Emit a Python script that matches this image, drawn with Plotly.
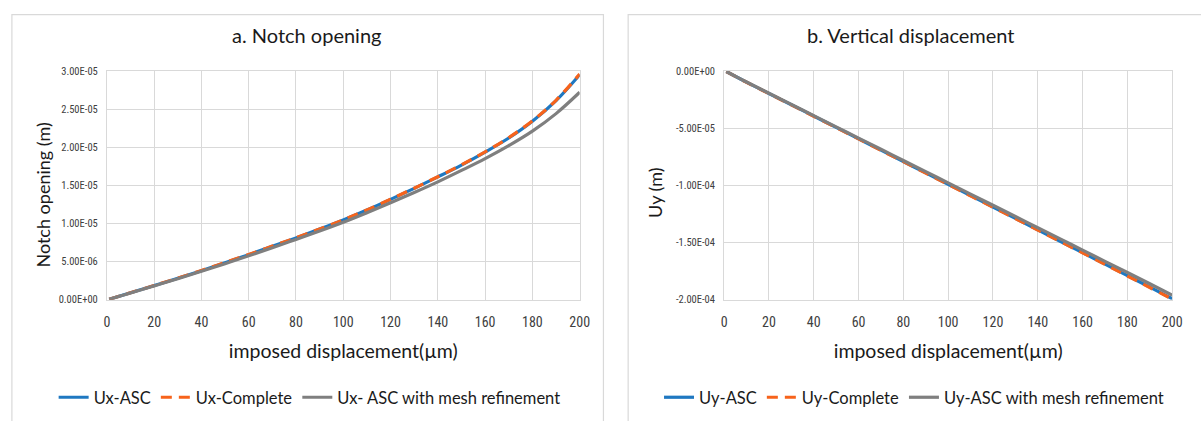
import plotly.graph_objects as go

# ---------------- data ----------------
disp = [1, 10, 20, 30, 40, 50, 60, 70, 80, 90, 100, 110, 120, 130, 140, 150, 160, 170, 180, 190, 200]

ux_asc = [0.05e-6, 0.9e-6, 1.85e-6, 2.8e-6, 3.8e-6, 4.85e-6, 5.9e-6, 7.0e-6, 8.1e-6, 9.25e-6, 10.45e-6,
          11.75e-6, 13.15e-6, 14.6e-6, 16.1e-6, 17.65e-6, 19.35e-6, 21.2e-6, 23.4e-6, 26.1e-6, 29.5e-6]
ux_complete = [0.05e-6, 0.9e-6, 1.86e-6, 2.82e-6, 3.82e-6, 4.87e-6, 5.92e-6, 7.02e-6, 8.12e-6, 9.27e-6, 10.47e-6,
               11.77e-6, 13.17e-6, 14.62e-6, 16.12e-6, 17.68e-6, 19.38e-6, 21.25e-6, 23.45e-6, 26.15e-6, 29.6e-6]
ux_mesh = [0.05e-6, 0.88e-6, 1.8e-6, 2.75e-6, 3.72e-6, 4.72e-6, 5.75e-6, 6.8e-6, 7.9e-6, 9.0e-6, 10.15e-6,
           11.4e-6, 12.7e-6, 14.05e-6, 15.45e-6, 16.95e-6, 18.5e-6, 20.2e-6, 22.1e-6, 24.4e-6, 27.2e-6]

uy_asc = [-0.5e-6, -9.8e-6, -19.7e-6, -29.6e-6, -39.5e-6, -49.4e-6, -59.3e-6, -69.3e-6, -79.2e-6, -89.2e-6,
          -99.1e-6, -109.0e-6, -119.0e-6, -128.9e-6, -138.9e-6, -148.9e-6, -158.9e-6, -168.9e-6, -179.0e-6,
          -189.0e-6, -199.2e-6]
uy_complete = [-0.5e-6, -9.9e-6, -19.8e-6, -29.7e-6, -39.6e-6, -49.5e-6, -59.4e-6, -69.4e-6, -79.3e-6, -89.3e-6,
               -99.2e-6, -109.2e-6, -119.2e-6, -129.1e-6, -139.1e-6, -149.1e-6, -159.1e-6, -169.2e-6, -179.3e-6,
               -189.4e-6, -199.5e-6]
uy_mesh = [-0.5e-6, -9.7e-6, -19.5e-6, -29.3e-6, -39.1e-6, -48.9e-6, -58.7e-6, -68.5e-6, -78.3e-6, -88.1e-6,
           -97.9e-6, -107.7e-6, -117.5e-6, -127.3e-6, -137.1e-6, -146.9e-6, -156.7e-6, -166.5e-6, -176.3e-6,
           -186.1e-6, -196.0e-6]

x_ticks = [0, 20, 40, 60, 80, 100, 120, 140, 160, 180, 200]
left_yticks = [0, 5e-6, 1e-5, 1.5e-5, 2e-5, 2.5e-5, 3e-5]
left_ytext = ["0.00E+00", "5.00E-06", "1.00E-05", "1.50E-05", "2.00E-05", "2.50E-05", "3.00E-05"]
right_yticks = [0, -5e-5, -1e-4, -1.5e-4, -2e-4]
right_ytext = ["0.00E+00", "-5.00E-05", "-1.00E-04", "-1.50E-04", "-2.00E-04"]

left_names = ["Ux-ASC", "Ux-Complete", "Ux- ASC with mesh refinement"]
right_names = ["Uy-ASC", "Uy-Complete", "Uy-ASC with mesh refinement"]

# ---------------- styles ----------------
BLUE = "#1f78c1"
ORANGE = "#f7631b"
GRAY = "#7f7f7f"
GRID = "#d9d9d9"
TXT = "#1a1a1a"
FONT = "Lato, 'Open Sans', sans-serif"
TICKFONT = "'Liberation Sans Narrow', 'Roboto Condensed', Lato, sans-serif"

W, H = 1201, 421

fig = go.Figure()

def add_set(xa, ya, ys, names, legend):
    styles = [dict(color=BLUE, width=3.2, dash="solid"),
              dict(color=ORANGE, width=3.2, dash="11px,7px"),
              dict(color=GRAY, width=3.2, dash="solid")]
    for y, n, st in zip(ys, names, styles):
        fig.add_trace(go.Scatter(x=disp, y=y, name=n, mode="lines", line=st,
                                 line_shape="spline", xaxis=xa, yaxis=ya, legend=legend))

add_set("x", "y", [ux_asc, ux_complete, ux_mesh], left_names, "legend")
add_set("x2", "y2", [uy_asc, uy_complete, uy_mesh], right_names, "legend2")

ydom = [1 - 303 / H, 1 - 67 / H]

xcommon = dict(range=[0, 200], tickvals=x_ticks, showgrid=True, gridcolor=GRID, gridwidth=1,
               showline=True, linecolor=GRID, linewidth=1, mirror=True, zeroline=False,
               ticks="", ticklabelstandoff=10,
               tickfont=dict(family=TICKFONT, size=14, color="#404040"),
               title=dict(text="imposed displacement(µm)", font=dict(family=FONT, size=19.5, color=TXT),
                          standoff=14))
ycommon = dict(showgrid=True, gridcolor=GRID, gridwidth=1, showline=True, linecolor=GRID,
               linewidth=1, mirror=True, zeroline=False, ticks="", ticklabelstandoff=6,
               tickfont=dict(family=TICKFONT, size=10.5, color="#404040"))

legfont = dict(family=FONT, size=16.5, color=TXT)

fig.update_layout(
    width=W, height=H,
    margin=dict(l=0, r=0, t=0, b=0),
    paper_bgcolor="white", plot_bgcolor="white",
    showlegend=True,
    xaxis=dict(domain=[105 / W, 583 / W], anchor="y", **xcommon),
    yaxis=dict(domain=ydom, anchor="x", range=[0, 3e-5], tickvals=left_yticks, ticktext=left_ytext,
               **ycommon),
    xaxis2=dict(domain=[729 / W, 1182 / W], anchor="y2", **xcommon),
    yaxis2=dict(domain=ydom, anchor="x2", range=[-2e-4, 0], tickvals=right_yticks, ticktext=right_ytext,
                **ycommon),
    legend=dict(orientation="h", x=310 / W, xanchor="center", y=1 - 404 / H, yanchor="middle",
                font=legfont, bgcolor="rgba(0,0,0,0)", itemwidth=30, tracegroupgap=0),
    legend2=dict(orientation="h", x=921 / W, xanchor="center", y=1 - 404 / H, yanchor="middle",
                 font=legfont, bgcolor="rgba(0,0,0,0)", itemwidth=30, tracegroupgap=0),
    shapes=[
        dict(type="rect", xref="paper", yref="paper", x0=9 / W, x1=607 / W, y0=-0.05, y1=1 - 9 / H,
             line=dict(color=GRID, width=1.2), fillcolor="rgba(0,0,0,0)", layer="below"),
        dict(type="rect", xref="paper", yref="paper", x0=632 / W, x1=1.05, y0=-0.05, y1=1 - 9 / H,
             line=dict(color=GRID, width=1.2), fillcolor="rgba(0,0,0,0)", layer="below"),
    ],
    annotations=[
        dict(text="a. Notch opening", xref="paper", yref="paper", x=307 / W, y=1 - 30 / H,
             xanchor="center", yanchor="middle", showarrow=False,
             font=dict(family=FONT, size=20, color=TXT)),
        dict(text="b. Vertical displacement", xref="paper", yref="paper", x=918 / W, y=1 - 30 / H,
             xanchor="center", yanchor="middle", showarrow=False,
             font=dict(family=FONT, size=20, color=TXT)),
        dict(text="Notch opening (m)", xref="paper", yref="paper", x=40 / W, y=1 - 195 / H,
             xanchor="center", yanchor="middle", showarrow=False, textangle=-90,
             font=dict(family=FONT, size=18, color=TXT)),
        dict(text="Uy (m)", xref="paper", yref="paper", x=659 / W, y=1 - 192 / H,
             xanchor="center", yanchor="middle", showarrow=False, textangle=-90,
             font=dict(family=FONT, size=18, color=TXT)),
    ],
)

fig.write_html("out.html")
